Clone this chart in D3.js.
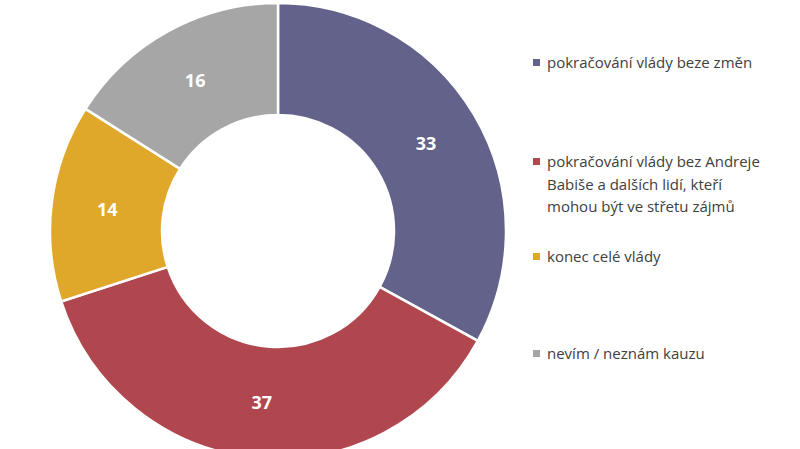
<!DOCTYPE html>
<html><head><meta charset="utf-8">
<script src="https://cdn.jsdelivr.net/npm/d3@7"></script>
<style>body{margin:0;background:#fff}</style></head>
<body><svg id="c" width="800" height="449"></svg>
<script>
const categories=["pokračování vlády beze změn","pokračování vlády bez Andreje Babiše a dalších lidí, kteří mohou být ve střetu zájmů","konec celé vlády","nevím / neznám kauzu"];
const legendLines=[["pokračování vlády beze změn"],["pokračování vlády bez Andreje","Babiše a dalších lidí, kteří","mohou být ve střetu zájmů"],["konec celé vlády"],["nevím / neznám kauzu"]];
const values=[33,37,14,16];
const colors=["#63628a","#b0474f","#e0a82a","#a6a6a6"];
const svg=d3.select("#c");
const cx=278,cy=231,ro=228,ri=116;
const pie=d3.pie().sort(null)(values);
const arc=d3.arc().innerRadius(ri).outerRadius(ro);
const g=svg.append("g").attr("transform",`translate(${cx},${cy})`);
g.selectAll("path").data(pie).join("path").attr("d",arc).attr("fill",(d,i)=>colors[i]).attr("stroke","#fff").attr("stroke-width",2.5);
const la=d3.arc().innerRadius(172).outerRadius(172);
g.selectAll("text").data(pie).join("text").attr("transform",d=>`translate(${la.centroid(d)})`)
 .attr("text-anchor","middle").attr("dy","0.35em").attr("fill","#fff").attr("font-family","Open Sans, sans-serif")
 .attr("font-weight","bold").attr("font-size",18).text(d=>d.data);
const ys=[63,162,257,354];
legendLines.forEach((lines,i)=>{
 svg.append("rect").attr("x",533).attr("y",ys[i]-4).attr("width",7).attr("height",7).attr("fill",colors[i]);
 lines.forEach((t,j)=>svg.append("text").attr("x",547).attr("y",ys[i]+j*22.5).attr("dy","0.35em")
  .attr("font-family","Open Sans, sans-serif").attr("font-size",15).attr("fill","#404040").text(t));
});
</script></body></html>
